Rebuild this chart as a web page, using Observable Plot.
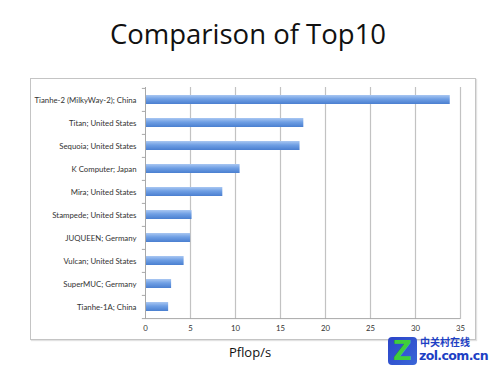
<!DOCTYPE html>
<html>
<head>
<meta charset="utf-8">
<script src="https://cdn.jsdelivr.net/npm/d3@7"></script>
<script src="https://cdn.jsdelivr.net/npm/@observablehq/plot@0.6"></script>
<style>
  html, body { margin: 0; padding: 0; background: #fff; }
  #wrap { position: relative; width: 500px; height: 378px; overflow: hidden; font-family: "Open Sans", Lato, sans-serif; }
  #frame { position: absolute; left: 30px; top: 78px; width: 444px; height: 260px; border: 1px solid #c4c4c4; box-shadow: 1px 1px 1px #e2e2e2; }
  #title { position: absolute; left: 0; width: 496px; top: 15px; text-align: center; font-size: 27.5px; color: #111; font-family: "Open Sans", Lato, sans-serif; }
  #xlabel { position: absolute; left: 0; width: 500px; top: 343px; text-align: center; font-size: 13px; color: #111; }
  #chart { position: absolute; left: 0; top: 0; }
  #logo { position: absolute; left: 388px; top: 337px; width: 29px; height: 28px; border-radius: 4px;
          background: linear-gradient(135deg, #2b44c8, #3a66d8); color: #3fcf3a; font: bold 26px/28px "DejaVu Sans", sans-serif; text-align: center; }
  #logo1 { position: absolute; left: 420px; top: 336px; font: bold 10px/11px "Noto Sans CJK SC", sans-serif; color: #1d3fc4; }
  #logo2 { position: absolute; left: 419px; top: 349px; font: bold 12.5px/13px "DejaVu Sans", sans-serif; color: #1d3fc4; letter-spacing: -0.6px; }
</style>
</head>
<body>
<div id="wrap">
  <div id="frame"></div>
  <div id="chart"></div>
  <div id="title">Comparison of Top10</div>
  <div id="xlabel">Pflop/s</div>
  <div id="logo">Z</div>
  <div id="logo1">中关村在线</div>
  <div id="logo2">zol.com.cn</div>
</div>
<script>
const systems = [
  "Tianhe-2 (MilkyWay-2); China",
  "Titan; United States",
  "Sequoia; United States",
  "K Computer; Japan",
  "Mira; United States",
  "Stampede; United States",
  "JUQUEEN; Germany",
  "Vulcan; United States",
  "SuperMUC; Germany",
  "Tianhe-1A; China"
];
const pflops = [33.86, 17.59, 17.17, 10.51, 8.59, 5.17, 5.01, 4.29, 2.90, 2.57];
const xTicks = [0, 5, 10, 15, 20, 25, 30, 35];

const data = systems.map((name, i) => ({name, value: pflops[i]}));

const mTop = 87, mBottom = 59;
const step = (378 - mTop - mBottom) / systems.length;

const chart = Plot.plot({
  width: 500,
  height: 378,
  marginLeft: 145,
  marginRight: 40,
  marginTop: mTop,
  marginBottom: mBottom,
  style: {fontSize: "7.8px", fontFamily: "Lato, 'Open Sans', sans-serif", color: "#333", background: "transparent"},
  x: {domain: [0, 35], ticks: xTicks, tickSize: 0, tickPadding: 6, label: null},
  y: {domain: systems, paddingInner: 0.6, paddingOuter: 0.3, tickSize: 0, tickPadding: 9, label: null},
  marks: [
    Plot.ruleX(xTicks.slice(1), {stroke: "#c2c2c2", strokeWidth: 1.2}),
    Plot.barX(data, {x: "value", y: "name", fill: "url(#barGrad)"}),
    Plot.ruleX([0], {stroke: "#a8a8a8"}),
    Plot.ruleY(systems, {y: d => d, x1: -0.35, x2: 0, dy: -step / 2, stroke: "#a8a8a8"}),
    Plot.ruleY([systems[systems.length - 1]], {x1: -0.35, x2: 35, dy: step / 2, stroke: "#a8a8a8"})
  ]
});

const svg = d3.select(chart);
const defs = svg.insert("defs", ":first-child");
const g = defs.append("linearGradient").attr("id", "barGrad").attr("x1", 0).attr("y1", 0).attr("x2", 0).attr("y2", 1);
g.append("stop").attr("offset", "0%").attr("stop-color", "#a9c7f2");
g.append("stop").attr("offset", "45%").attr("stop-color", "#6f9fe4");
g.append("stop").attr("offset", "100%").attr("stop-color", "#4a7fd0");

document.getElementById("chart").appendChild(chart);
</script>
</body>
</html>
